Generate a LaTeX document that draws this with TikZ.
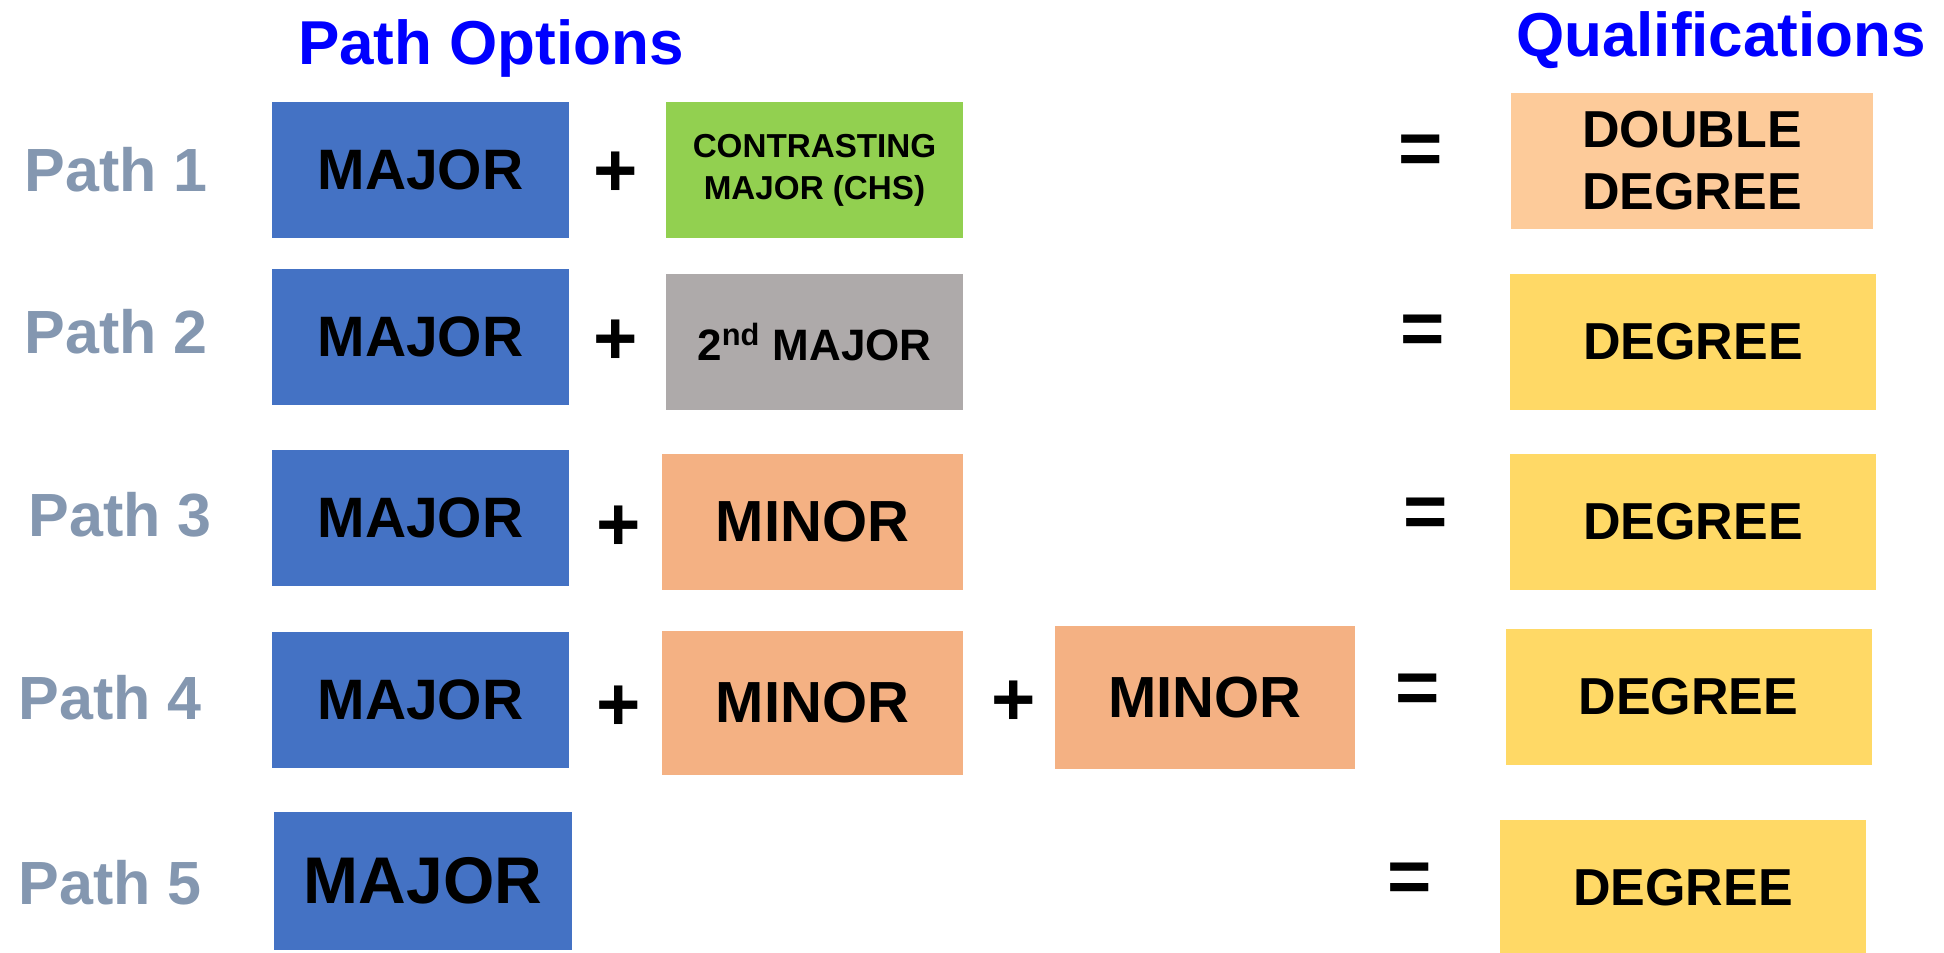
\documentclass[tikz,border=0pt]{standalone}
\usepackage{fontspec}
\setmainfont{Liberation Sans}

\definecolor{headblue}{HTML}{0000FF}
\definecolor{pathgray}{HTML}{8497B0}
\definecolor{majorblue}{HTML}{4472C4}
\definecolor{chsgreen}{HTML}{92D050}
\definecolor{secondgray}{HTML}{AEAAAA}
\definecolor{minororange}{HTML}{F4B183}
\definecolor{doublepeach}{HTML}{FDCB9A}
\definecolor{degyellow}{HTML}{FFD966}

\tikzset{
  heading/.style={text=headblue,anchor=base,font=\bfseries\fontsize{31}{37}\selectfont},
  pathlbl/.style={text=pathgray,font=\bfseries\fontsize{30.5}{36}\selectfont},
  op/.style={font=\bfseries\fontsize{38}{40}\selectfont},
  box/.style={rectangle,inner sep=0pt,minimum width=148.5pt,minimum height=68pt,align=center},
  majorbox/.style={box,fill=majorblue,font=\bfseries\fontsize{28.5}{34}\selectfont},
  minorbox/.style={box,fill=minororange,minimum width=150.5pt,font=\bfseries\fontsize{29}{34}\selectfont},
  degbox/.style={box,fill=degyellow,minimum width=183pt,font=\bfseries\fontsize{26}{31}\selectfont}
}

\begin{document}
\begin{tikzpicture}[x=0.5pt,y=-0.5pt]
  \useasboundingbox (0,0) rectangle (1944,953);

  \node[heading] (opts) at (491,64) {Path Options};
  \node[heading] (qual) at (1721,56) {Qualifications};

  % path 1
  \node[pathlbl] (p1) at (116,170) {Path 1};
  \node[majorbox] (maj1) at (420.5,170) {MAJOR};
  \node[op] (plus1) at (616,174) {+};
  \node[box,fill=chsgreen,font=\bfseries\fontsize{16.6}{21}\selectfont] (chs) at (814.5,170) {CONTRASTING\\MAJOR (CHS)};
  \node[op] (eq1) at (1421,155) {=};
  \node[degbox,fill=doublepeach,minimum width=181pt,font=\bfseries\fontsize{26}{31}\selectfont] (dbl) at (1692,161) {DOUBLE\\DEGREE};

  % path 2
  \node[pathlbl] (p2) at (116,332) {Path 2};
  \node[majorbox] (maj2) at (420.5,337) {MAJOR};
  \node[op] (plus2) at (616,342) {+};
  \node[box,fill=secondgray,font=\bfseries\fontsize{22}{26}\selectfont] (snd) at (814.5,342) {2\textsuperscript{nd} MAJOR};
  \node[op] (eq2) at (1423,335) {=};
  \node[degbox] (deg2) at (1693,342) {DEGREE};

  % path 3
  \node[pathlbl] (p3) at (120,515) {Path 3};
  \node[majorbox] (maj3) at (420.5,518) {MAJOR};
  \node[op] (plus3) at (619,528) {+};
  \node[minorbox] (min3) at (812.5,522) {MINOR};
  \node[op] (eq3) at (1426,518) {=};
  \node[degbox] (deg3) at (1693,522) {DEGREE};

  % path 4
  \node[pathlbl] (p4) at (110,698) {Path 4};
  \node[majorbox] (maj4) at (420.5,700) {MAJOR};
  \node[op] (plus4) at (619,708) {+};
  \node[minorbox,minimum height=72pt] (min4) at (812.5,703) {MINOR};
  \node[op] (plus5) at (1014,703) {+};
  \node[minorbox,minimum width=150pt,minimum height=71.5pt] (min5) at (1205,697.5) {MINOR};
  \node[op] (eq4) at (1418,694) {=};
  \node[degbox] (deg4) at (1688.5,697) {DEGREE};

  % path 5
  \node[pathlbl] (p5) at (110,883) {Path 5};
  \node[majorbox,minimum width=149pt,minimum height=69pt,font=\bfseries\fontsize{33}{38}\selectfont] (maj5) at (423,881) {MAJOR};
  \node[op] (eq5) at (1410,883) {=};
  \node[degbox] (deg5) at (1683,888) {DEGREE};
\end{tikzpicture}
\end{document}
